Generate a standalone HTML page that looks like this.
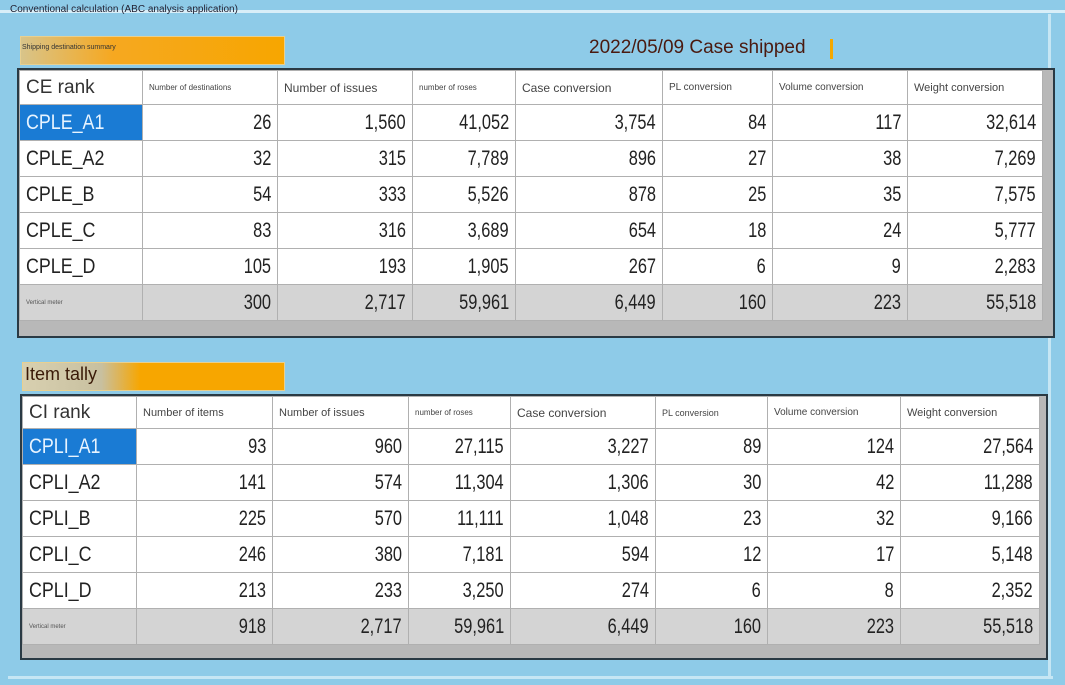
<!DOCTYPE html>
<html><head><meta charset="utf-8"><style>
body{margin:0;width:1065px;height:685px;background:#8ecbe8;position:relative;overflow:hidden;font-family:"Liberation Sans",sans-serif}
.a{position:absolute}
.frame{position:absolute;border:2px solid #2a3a44;background:#b8b8b8}
table{border-collapse:collapse;position:absolute;left:0;top:0;table-layout:fixed}
td{border:1px solid #b0b0b0;background:#fff;padding:0 6px;overflow:hidden;white-space:nowrap;font-family:"Liberation Sans",sans-serif;font-size:21px;color:#222;text-align:right}
td span{display:inline-block;transform:scaleX(0.78);transform-origin:right center}
td.l span{transform-origin:left center;transform:scaleX(0.85)}
td.l{text-align:left}
tr.h td{font-family:"Liberation Sans",sans-serif;font-size:12px;color:#444;text-align:left;vertical-align:middle}
tr.h td.big{font-size:19px;color:#333}
tr.h td.sm{font-size:8px}
tr.t td{background:#d4d4d4}
td.sel{background:#1a7bd4;color:#e8f4ff}
td.tiny{font-size:6px;color:#555}
</style></head><body>
<div class="a" style="left:0;top:10px;width:1065px;height:3px;background:#d8eef8"></div>
<div class="a" style="left:10px;top:4px;font-size:10px;color:#223">Conventional calculation (ABC analysis application)</div>
<div class="a" style="left:1048px;top:14px;width:3px;height:665px;background:#c6e6f4"></div>
<div class="a" style="left:8px;top:676px;width:1045px;height:3px;background:#c6e6f4"></div>
<div class="a" style="left:20px;top:36px;width:263px;height:27px;background:linear-gradient(90deg,#d8c48a,#f6a820 35%,#f7a600);border:1px solid #e8d090"></div>
<div class="a" style="left:22px;top:44px;font-size:7px;color:#333">Shipping destination summary</div>
<div class="a" style="left:589px;top:37px;font-size:19px;color:#4a1a10">2022/05/09 Case shipped</div>
<div class="a" style="left:830px;top:39px;width:3px;height:20px;background:#f5a800"></div>

<div class="frame" style="left:17px;top:68px;width:1034px;height:266px">
<table style="width:1023px">
<colgroup><col style="width:123px"><col style="width:135px"><col style="width:135px"><col style="width:103px"><col style="width:147px"><col style="width:110px"><col style="width:135px"><col style="width:135px"></colgroup>
<tr class="h" style="height:34px"><td class="big">CE rank</td><td class="sm">Number of destinations</td><td>Number of issues</td><td class="sm">number of roses</td><td>Case conversion</td><td style="font-size:10px">PL conversion</td><td style="font-size:10px">Volume conversion</td><td style="font-size:11px">Weight conversion</td></tr>
<tr style="height:36px"><td class="l sel"><span>CPLE_A1</span></td><td><span>26</span></td><td><span>1,560</span></td><td><span>41,052</span></td><td><span>3,754</span></td><td><span>84</span></td><td><span>117</span></td><td><span>32,614</span></td></tr>
<tr style="height:36px"><td class="l"><span>CPLE_A2</span></td><td><span>32</span></td><td><span>315</span></td><td><span>7,789</span></td><td><span>896</span></td><td><span>27</span></td><td><span>38</span></td><td><span>7,269</span></td></tr>
<tr style="height:36px"><td class="l"><span>CPLE_B</span></td><td><span>54</span></td><td><span>333</span></td><td><span>5,526</span></td><td><span>878</span></td><td><span>25</span></td><td><span>35</span></td><td><span>7,575</span></td></tr>
<tr style="height:36px"><td class="l"><span>CPLE_C</span></td><td><span>83</span></td><td><span>316</span></td><td><span>3,689</span></td><td><span>654</span></td><td><span>18</span></td><td><span>24</span></td><td><span>5,777</span></td></tr>
<tr style="height:36px"><td class="l"><span>CPLE_D</span></td><td><span>105</span></td><td><span>193</span></td><td><span>1,905</span></td><td><span>267</span></td><td><span>6</span></td><td><span>9</span></td><td><span>2,283</span></td></tr>
<tr class="t" style="height:36px"><td class="l tiny">Vertical meter</td><td><span>300</span></td><td><span>2,717</span></td><td><span>59,961</span></td><td><span>6,449</span></td><td><span>160</span></td><td><span>223</span></td><td><span>55,518</span></td></tr>
</table></div>

<div class="a" style="left:22px;top:362px;width:261px;height:27px;background:linear-gradient(90deg,#d8d0b0,#c8c0a0 30%,#f7a600 45%,#f7a600);border:1px solid #e8d090"></div>
<div class="a" style="left:25px;top:364px;font-size:18px;color:#3a1a08">Item tally</div>

<div class="frame" style="left:20px;top:394px;width:1024px;height:262px">
<table style="width:1017px">
<colgroup><col style="width:114px"><col style="width:136px"><col style="width:136px"><col style="width:102px"><col style="width:145px"><col style="width:112px"><col style="width:133px"><col style="width:139px"></colgroup>
<tr class="h" style="height:32px"><td class="big">CI rank</td><td style="font-size:11px">Number of items</td><td style="font-size:11px">Number of issues</td><td class="sm">number of roses</td><td style="font-size:12px">Case conversion</td><td style="font-size:9px">PL conversion</td><td style="font-size:10px">Volume conversion</td><td style="font-size:11px">Weight conversion</td></tr>
<tr style="height:36px"><td class="l sel"><span>CPLI_A1</span></td><td><span>93</span></td><td><span>960</span></td><td><span>27,115</span></td><td><span>3,227</span></td><td><span>89</span></td><td><span>124</span></td><td><span>27,564</span></td></tr>
<tr style="height:36px"><td class="l"><span>CPLI_A2</span></td><td><span>141</span></td><td><span>574</span></td><td><span>11,304</span></td><td><span>1,306</span></td><td><span>30</span></td><td><span>42</span></td><td><span>11,288</span></td></tr>
<tr style="height:36px"><td class="l"><span>CPLI_B</span></td><td><span>225</span></td><td><span>570</span></td><td><span>11,111</span></td><td><span>1,048</span></td><td><span>23</span></td><td><span>32</span></td><td><span>9,166</span></td></tr>
<tr style="height:36px"><td class="l"><span>CPLI_C</span></td><td><span>246</span></td><td><span>380</span></td><td><span>7,181</span></td><td><span>594</span></td><td><span>12</span></td><td><span>17</span></td><td><span>5,148</span></td></tr>
<tr style="height:36px"><td class="l"><span>CPLI_D</span></td><td><span>213</span></td><td><span>233</span></td><td><span>3,250</span></td><td><span>274</span></td><td><span>6</span></td><td><span>8</span></td><td><span>2,352</span></td></tr>
<tr class="t" style="height:36px"><td class="l tiny">Vertical meter</td><td><span>918</span></td><td><span>2,717</span></td><td><span>59,961</span></td><td><span>6,449</span></td><td><span>160</span></td><td><span>223</span></td><td><span>55,518</span></td></tr>
</table></div>
</body></html>
